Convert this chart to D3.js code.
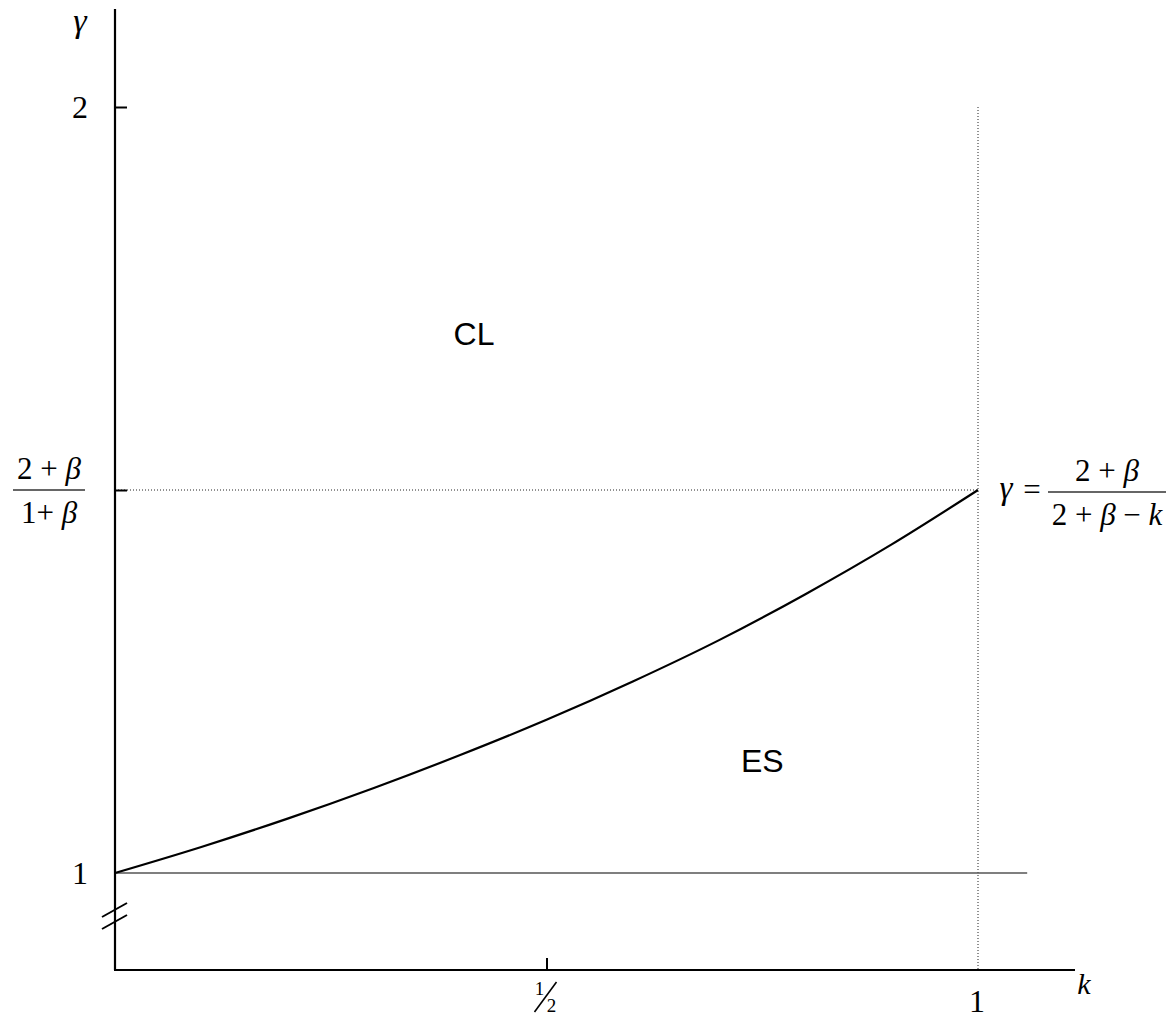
<!DOCTYPE html>
<html>
<head>
<meta charset="utf-8">
<script src="https://cdn.jsdelivr.net/npm/d3@7"></script>
<style>
  body { margin: 0; background: #fff; }
  svg text { fill: #000; }
  .serif { font-family: "Liberation Serif", "Times New Roman", serif; }
  .sans { font-family: "Liberation Sans", Arial, sans-serif; }
</style>
</head>
<body>
<div id="content"></div>
<script>
// boundary curve (k, gamma)
const kVals = [0, 0.1, 0.2, 0.3, 0.4, 0.5, 0.6, 0.7, 0.8, 0.9, 1];
const gammaVals = [1, 1.034, 1.071, 1.111, 1.154, 1.2, 1.25, 1.304, 1.364, 1.429, 1.5];
const yTicks = [1.5, 2];
const xTicks = [0.5];
const regionNames = ["CL", "ES"];
const regionPos = [[0.416, 1.689], [0.75, 1.132]];
const gammaMid = 1.5;

const w = 1175;
const h = 1019;

const x = d3.scaleLinear().domain([0, 1]).range([115, 978]);
const y = d3.scaleLinear().domain([1, 2]).range([873, 107]);

const svg = d3.select("#content")
  .append("svg")
  .attr("width", w)
  .attr("height", h);

const yBottom = y.invert(970);
const yTop = y.invert(9);
const xEnd = x.invert(1075);

// dotted guides
svg.append("line")
  .attr("x1", x(0)).attr("x2", x(1))
  .attr("y1", y(gammaMid)).attr("y2", y(gammaMid))
  .attr("stroke", "#222").attr("stroke-width", 1)
  .attr("stroke-dasharray", "1,2");
svg.append("line")
  .attr("x1", x(1)).attr("x2", x(1))
  .attr("y1", y(2)).attr("y2", y(yBottom))
  .attr("stroke", "#222").attr("stroke-width", 1)
  .attr("stroke-dasharray", "1,2");

// gamma = 1 line
svg.append("line")
  .attr("x1", x(0)).attr("x2", x(1.057))
  .attr("y1", y(1)).attr("y2", y(1))
  .attr("stroke", "#555").attr("stroke-width", 1.3);

// axes
svg.append("line")
  .attr("x1", x(0)).attr("x2", x(0))
  .attr("y1", y(yTop)).attr("y2", y(yBottom))
  .attr("stroke", "#000").attr("stroke-width", 2.2);
svg.append("line")
  .attr("x1", x(0) - 1).attr("x2", x(xEnd))
  .attr("y1", y(yBottom)).attr("y2", y(yBottom))
  .attr("stroke", "#000").attr("stroke-width", 2.2);

const yAxis = d3.axisLeft(y).tickValues(yTicks).tickSizeInner(-12).tickSizeOuter(0).tickFormat("");
svg.append("g")
  .attr("transform", `translate(${x(0)},0)`)
  .call(yAxis)
  .call(g => g.select(".domain").remove())
  .call(g => g.selectAll(".tick line").attr("stroke", "#000").attr("stroke-width", 2));

const xAxis = d3.axisBottom(x).tickValues(xTicks).tickSizeInner(-12).tickSizeOuter(0).tickFormat("");
svg.append("g")
  .attr("transform", `translate(0,${y(yBottom)})`)
  .call(xAxis)
  .call(g => g.select(".domain").remove())
  .call(g => g.selectAll(".tick line").attr("stroke", "#000").attr("stroke-width", 2));

// axis break marks
[0, 12].forEach(d => {
  svg.append("line")
    .attr("x1", x(0) - 13).attr("y1", y(1) + 44 + d)
    .attr("x2", x(0) + 12).attr("y2", y(1) + 30 + d)
    .attr("stroke", "#000").attr("stroke-width", 2);
});

// curve
const pts = kVals.map((k, i) => [k, gammaVals[i]]);
svg.append("path")
  .datum(pts)
  .attr("d", d3.line().x(d => x(d[0])).y(d => y(d[1])).curve(d3.curveMonotoneX))
  .attr("fill", "none")
  .attr("stroke", "#000")
  .attr("stroke-width", 2.2);

// labels
svg.append("text").attr("class", "serif")
  .attr("x", 80).attr("y", 32).attr("font-size", 34).attr("font-style", "italic")
  .attr("text-anchor", "middle").text("γ");
svg.append("text").attr("class", "serif")
  .attr("x", 80).attr("y", y(2) + 11).attr("font-size", 32)
  .attr("text-anchor", "middle").text("2");
svg.append("text").attr("class", "serif")
  .attr("x", 80).attr("y", y(1) + 11).attr("font-size", 32)
  .attr("text-anchor", "middle").text("1");
svg.append("text").attr("class", "serif")
  .attr("x", 977).attr("y", 1012).attr("font-size", 32)
  .attr("text-anchor", "middle").text("1");
svg.append("text").attr("class", "serif")
  .attr("x", 1084).attr("y", 994).attr("font-size", 30).attr("font-style", "italic")
  .attr("text-anchor", "middle").text("k");

// one half label
const hx = x(0.5);
svg.append("text").attr("class", "serif")
  .attr("x", hx - 7).attr("y", 995).attr("font-size", 19)
  .attr("text-anchor", "middle").text("1");
svg.append("line")
  .attr("x1", hx - 12).attr("y1", 1012).attr("x2", hx + 10).attr("y2", 982)
  .attr("stroke", "#000").attr("stroke-width", 1.6);
svg.append("text").attr("class", "serif")
  .attr("x", hx + 5).attr("y", 1012).attr("font-size", 19)
  .attr("text-anchor", "middle").text("2");

// stacked fraction
function frac(cx, cy, num, den, lineW) {
  const g = svg.append("g").attr("class", "serif");
  const top = g.append("text").attr("x", cx).attr("y", cy - 11)
    .attr("font-size", 31).attr("text-anchor", "middle");
  num(top);
  g.append("line").attr("x1", cx - lineW / 2).attr("x2", cx + lineW / 2)
    .attr("y1", cy).attr("y2", cy).attr("stroke", "#333").attr("stroke-width", 1.5);
  const bot = g.append("text").attr("x", cx).attr("y", cy + 33)
    .attr("font-size", 31).attr("text-anchor", "middle");
  den(bot);
}
const beta = t => t.append("tspan").attr("font-style", "italic").text("β");

frac(49, y(gammaMid), t => { t.append("tspan").text("2 + "); beta(t); },
  t => { t.append("tspan").text("1+ "); beta(t); }, 72);

// right equation
const ry = y(gammaMid);
svg.append("text").attr("class", "serif")
  .attr("x", 1006).attr("y", ry + 9).attr("font-size", 33).attr("font-style", "italic")
  .attr("text-anchor", "middle").text("γ");
svg.append("text").attr("class", "serif")
  .attr("x", 1032).attr("y", ry + 10).attr("font-size", 31)
  .attr("text-anchor", "middle").text("=");
frac(1107, ry + 2, t => { t.append("tspan").text("2 + "); beta(t); },
  t => { t.append("tspan").text("2 + "); beta(t); t.append("tspan").text(" − "); t.append("tspan").attr("font-style", "italic").text("k"); }, 118);

// region names
svg.selectAll(".region")
  .data(regionNames)
  .enter()
  .append("text")
  .attr("class", "sans region")
  .attr("x", (d, i) => x(regionPos[i][0]))
  .attr("y", (d, i) => y(regionPos[i][1]))
  .attr("font-size", 32)
  .attr("text-anchor", "middle")
  .text(d => d);
</script>
</body>
</html>
